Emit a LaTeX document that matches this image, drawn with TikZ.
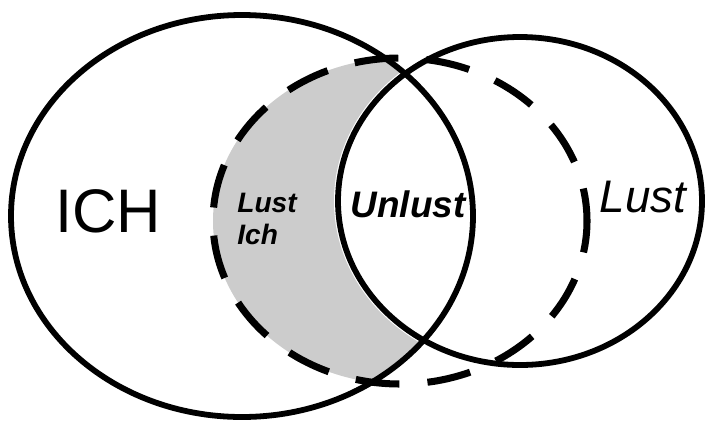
\documentclass[tikz,border=0pt]{standalone}
\usepackage{fontspec}
\setmainfont{Liberation Sans}

\begin{document}
\begin{tikzpicture}[x=0.02cm,y=-0.02cm,
  ring/.style={line width=3.3pt},
  dashring/.style={line width=4pt,dash pattern=on 25pt off 16pt,dash phase=7pt},
  lbl/.style={inner sep=0pt,anchor=base}]
 \useasboundingbox (0,0) rectangle (709,423);

 % grey part: inside the dashed ring and ICH, outside Lust
 \begin{scope}
  \clip (242,216) ellipse (231 and 201);
  \clip (400,221) ellipse (187 and 163);
  \fill[black!20] (0,0) rectangle (709,423);
  \fill[white] (520,201) ellipse (186 and 168);
 \end{scope}

 \draw[ring] (242,216) ellipse (231 and 201);
 \draw[ring] (520,201) ellipse (182 and 164);
 \draw[dashring] (400,221) ellipse (187 and 163);

 \node[lbl,font=\fontsize{35}{35}\selectfont] (ich) at (108,232) {ICH};
 \node[lbl,anchor=north west,align=left,font=\fontsize{16}{18}\selectfont\bfseries\itshape]
   (lustich) at (237,193) {Lust\\Ich};
 \node[lbl,font=\fontsize{21}{21}\selectfont\bfseries\itshape] (unlust) at (408,217) {Unlust};
 \node[lbl,font=\fontsize{26}{26}\selectfont\itshape] (lust) at (643,212) {Lust};
\end{tikzpicture}
\end{document}
